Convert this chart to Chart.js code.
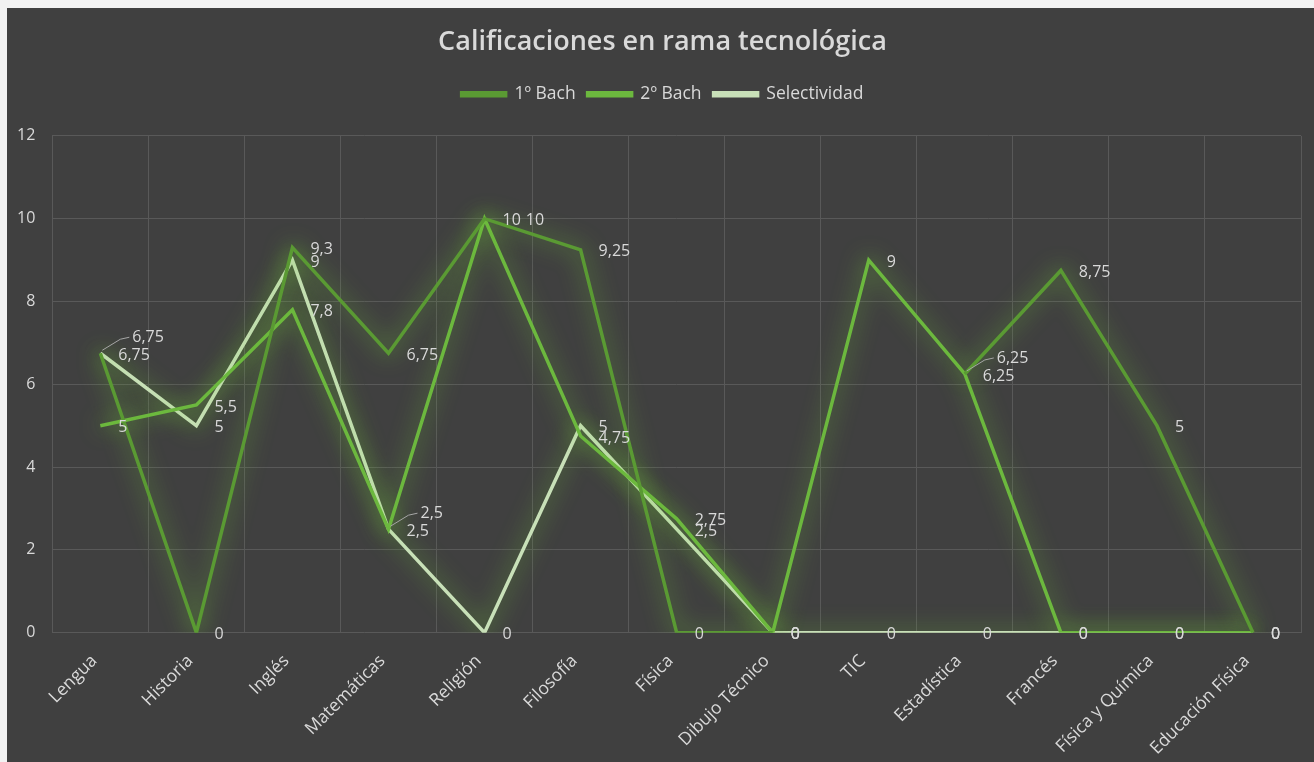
<!DOCTYPE html>
<html>
<head>
<meta charset="utf-8">
<script src="https://cdn.jsdelivr.net/npm/chart.js@4"></script>
<style>
  body { margin: 0; background: #f2f2f2; }
  #wrap { position: absolute; left: 7px; top: 8px; width: 1307px; height: 754px; background: #404040; }
</style>
</head>
<body>
<div id="wrap"><canvas id="chart"></canvas></div>
<script>
const asignaturas = ['Lengua', 'Historia', 'Inglés', 'Matemáticas', 'Religión', 'Filosofía', 'Física',
  'Dibujo Técnico', 'TIC', 'Estadística', 'Francés', 'Física y Química', 'Educación Física'];
const primeroBach = [6.75, 0, 9.3, 6.75, 10, 9.25, 0, 0, null, 6.25, 8.75, 5, 0];
const segundoBach = [5, 5.5, 7.8, 2.5, 10, 4.75, 2.75, 0, 9, 6.25, 0, 0, 0];
const selectividad = [6.75, 5, 9, 2.5, 0, 5, 2.5, 0, 0, 0, 0, 0, 0];

const TXT = '#d9d9d9';
const FONT = '"Open Sans", sans-serif';

// brillo verde alrededor de las líneas
const glow = {
  id: 'glow',
  beforeDatasetDraw(chart) {
    const c = chart.ctx;
    c.save();
    c.shadowColor = 'rgba(115,200,55,0.9)';
    c.shadowBlur = 22;
  },
  afterDatasetDraw(chart) { chart.ctx.restore(); }
};

// más hueco bajo la leyenda; título y leyenda centrados en la imagen
const hueco = {
  id: 'hueco',
  beforeInit(chart) {
    const fit = chart.legend.fit;
    chart.legend.fit = function () { fit.call(this); this.height += 23; };
  },
  afterLayout(chart) {
    [chart.titleBlock, chart.legend].forEach(b => { b.left += 12; b.right += 12; });
  }
};

// etiquetas de valor a la derecha de cada punto
const etiquetas = {
  id: 'etiquetas',
  afterDatasetsDraw(chart) {
    const c = chart.ctx;
    const puestas = [];
    c.save();
    c.font = '16px ' + FONT;
    c.fillStyle = TXT;
    c.textAlign = 'left';
    c.textBaseline = 'middle';
    chart.data.datasets.forEach((ds, i) => {
      const max = Math.max(...ds.data.filter(v => v !== null));
      chart.getDatasetMeta(i).data.forEach((pt, j) => {
        const v = ds.data[j];
        if (v === null) return;
        const txt = String(v).replace('.', ',');
        let x = pt.x + 18, y = pt.y + 2;
        const choque = v > 0 && puestas.find(p => p.j === j && Math.abs(p.y - y) < 10);
        if (choque && v === max) {
          x = choque.x + choque.w + 5;
        } else if (choque) {
          x += 14; y -= 18;
          c.strokeStyle = '#a6a6a6';
          c.lineWidth = 1;
          c.beginPath();
          c.moveTo(pt.x + 2, pt.y - 3);
          c.lineTo(x - 12, y + 2);
          c.lineTo(x - 3, y);
          c.stroke();
        }
        const w = c.measureText(txt).width;
        c.fillText(txt, x, y);
        puestas.push({ j, x, y, w });
      });
    });
    c.restore();
  }
};

new Chart(document.getElementById('chart'), {
  type: 'line',
  data: {
    labels: asignaturas,
    datasets: [
      { label: '1º Bach', data: primeroBach, borderColor: '#5a9a33', backgroundColor: '#5a9a33', borderWidth: 3.5 },
      { label: '2º Bach', data: segundoBach, borderColor: '#6cb83e', backgroundColor: '#6cb83e', borderWidth: 3.5 },
      { label: 'Selectividad', data: selectividad, borderColor: '#c8e0b8', backgroundColor: '#c8e0b8', borderWidth: 3.5 }
    ]
  },
  options: {
    responsive: true,
    maintainAspectRatio: false,
    animation: false,
    elements: { point: { radius: 0, hoverRadius: 0 }, line: { tension: 0 } },
    layout: { padding: { left: -7, right: 13, top: 8, bottom: -15 } },
    plugins: {
      title: {
        display: true,
        text: 'Calificaciones en rama tecnológica',
        color: TXT,
        font: { family: FONT, size: 27, weight: '600' },
        padding: { top: 10, bottom: 15 }
      },
      legend: {
        labels: {
          color: TXT,
          font: { family: FONT, size: 17.5 },
          boxWidth: 44, boxHeight: 3, padding: 12
        }
      },
      tooltip: { enabled: false }
    },
    scales: {
      x: {
        offset: true,
        grid: { offset: true, color: '#595959', drawTicks: false },
        border: { display: false },
        ticks: { color: TXT, font: { family: FONT, size: 17.5 }, maxRotation: 45, minRotation: 45, padding: 18, labelOffset: -6 }
      },
      y: {
        min: 0, max: 12,
        grid: { color: '#595959', drawTicks: false },
        border: { display: false },
        ticks: { stepSize: 2, color: TXT, font: { family: FONT, size: 16 }, padding: 17 }
      }
    }
  },
  plugins: [glow, hueco, etiquetas]
});
</script>
</body>
</html>
